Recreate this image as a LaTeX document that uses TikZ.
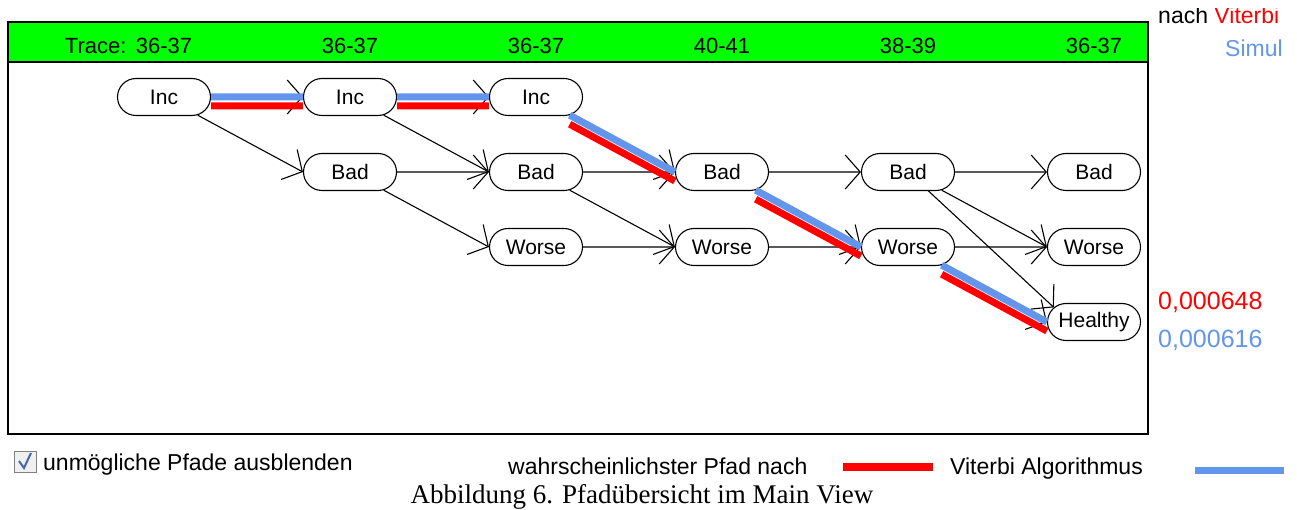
\documentclass[tikz,border=0pt]{standalone}
\usepackage{fontspec}
\setmainfont{Liberation Sans}
\newfontfamily\capfont{Liberation Serif}
\usetikzlibrary{arrows.meta, positioning, shapes.misc}

\definecolor{hgreen}{RGB}{0,255,0}
\definecolor{vred}{RGB}{255,0,0}
\definecolor{vblue}{RGB}{100,149,237}

\begin{document}
\begin{tikzpicture}[
						x=1pt, y=-1pt,
						node distance={186pt},
						>={Straight Barb[length=15pt,width=34pt]},
						state/.style = {draw, rounded rectangle, fill=white, line width=1.1pt, minimum width=93pt, minimum height=37pt, inner sep=0pt, font=\fontsize{21}{25}\selectfont},
						head/.style = {inner sep=0pt, font=\fontsize{22}{26}\selectfont},
						legend/.style = {inner sep=0pt, anchor=base west, font=\fontsize{23}{27}\selectfont},
						edge/.style = {->, line width=1.1pt},
						vit/.style = {draw=vred, line width=7pt, transform canvas={yshift=-9pt}},
						sim/.style = {draw=vblue, line width=7pt},
					]
\useasboundingbox (0,0) rectangle (1297,510);

% frame and header
\fill[hgreen] (8,22) rectangle (1148,62);
\draw[line width=1.5pt] (8,22) rectangle (1148,434);
\draw[line width=1.5pt] (8,62) -- (1148,62);

\node[state] (i1) at (164,97) {Inc};
\node[state] (i2) [right of=i1] {Inc};
\node[state] (i3) [right of=i2] {Inc};
\node[state] (b2) [below of=i2, node distance=75pt] {Bad};
\node[state] (b3) [right of=b2] {Bad};
\node[state] (b4) [right of=b3] {Bad};
\node[state] (b5) [right of=b4] {Bad};
\node[state] (b6) [right of=b5] {Bad};
\node[state] (w3) [below of=b3, node distance=75pt] {Worse};
\node[state] (w4) [right of=w3] {Worse};
\node[state] (w5) [right of=w4] {Worse};
\node[state] (w6) [right of=w5] {Worse};
\node[state] (h6) [below of=w6, node distance=75pt] {Healthy};

\node[head] (c1) at (i1 |- 0,46) {36-37};
\node[head] (c2) at (i2 |- 0,46) {36-37};
\node[head] (c3) at (i3 |- 0,46) {36-37};
\node[head] (c4) at (b4 |- 0,46) {40-41};
\node[head] (c5) at (b5 |- 0,46) {38-39};
\node[head] (c6) at (b6 |- 0,46) {36-37};
\node[head] (tr) [left=9pt of c1] {Trace:};

\draw[edge] (i1) -- (i2);
\draw[edge] (i1) -- (b2.west);
\draw[edge] (i2) -- (i3);
\draw[edge] (i2) -- (b3.west);
\draw[edge] (b2) -- (b3);
\draw[edge] (b2) -- (w3.west);
\draw[edge] (i3) -- (b4.west);
\draw[edge] (b3) -- (b4);
\draw[edge] (b3) -- (w4.west);
\draw[edge] (w3) -- (w4);
\draw[edge] (b4) -- (b5);
\draw[edge] (b4) -- (w5.west);
\draw[edge] (w4) -- (w5);
\draw[edge] (b5) -- (b6);
\draw[edge] (b5) -- (w6.west);
\draw[edge] (b5) -- (h6.160);
\draw[edge] (w5) -- (w6);
\draw[edge] (w5) -- (h6.west);

% most likely path
\draw[vit] (i1) -- (i2);
\draw[vit] (i2) -- (i3);
\draw[vit] (i3) -- (b4.west);
\draw[vit] (b4) -- (w5.west);
\draw[vit] (w5) -- (h6.west);
\draw[sim] (i1) -- (i2);
\draw[sim] (i2) -- (i3);
\draw[sim] (i3) -- (b4.west);
\draw[sim] (b4) -- (w5.west);
\draw[sim] (w5) -- (h6.west);

% right side, cut off
\begin{scope}
\clip (1150,9) rectangle (1284,510);
\node[legend] (ln) at (1158,24) {nach \textcolor{vred}{Viterbi}};
\node[legend, text=vblue] (ls) at (1225,57) {Simul};
\draw[vblue, line width=7pt] (1195,470) -- (1284,470);
\end{scope}
\node[legend, text=vred, font=\fontsize{25}{29}\selectfont] (pv) at (1158,309) {0,000648};
\node[legend, text=vblue, font=\fontsize{25}{29}\selectfont] (ps) at (1158,347) {0,000616};

% bottom
\draw[gray, fill=gray!12, line width=1pt] (14,451) rectangle (36,472);
\draw[vblue!70!black, line width=2pt] (19,461) -- (24,468) -- (31,453);
\node[legend] (cb) at (43,470) {unmögliche Pfade ausblenden};
\node[legend] (lw) at (508,474) {wahrscheinlichster Pfad nach};
\draw[vred, line width=8pt] (843,467) -- (933,467);
\node[legend] (lv) at (950,474) {Viterbi Algorithmus};
\node[inner sep=0pt, anchor=base, font=\capfont\fontsize{27}{31}\selectfont] (cap) at (642,503) {Abbildung 6. Pfadübersicht im Main View};

\end{tikzpicture}
\end{document}
